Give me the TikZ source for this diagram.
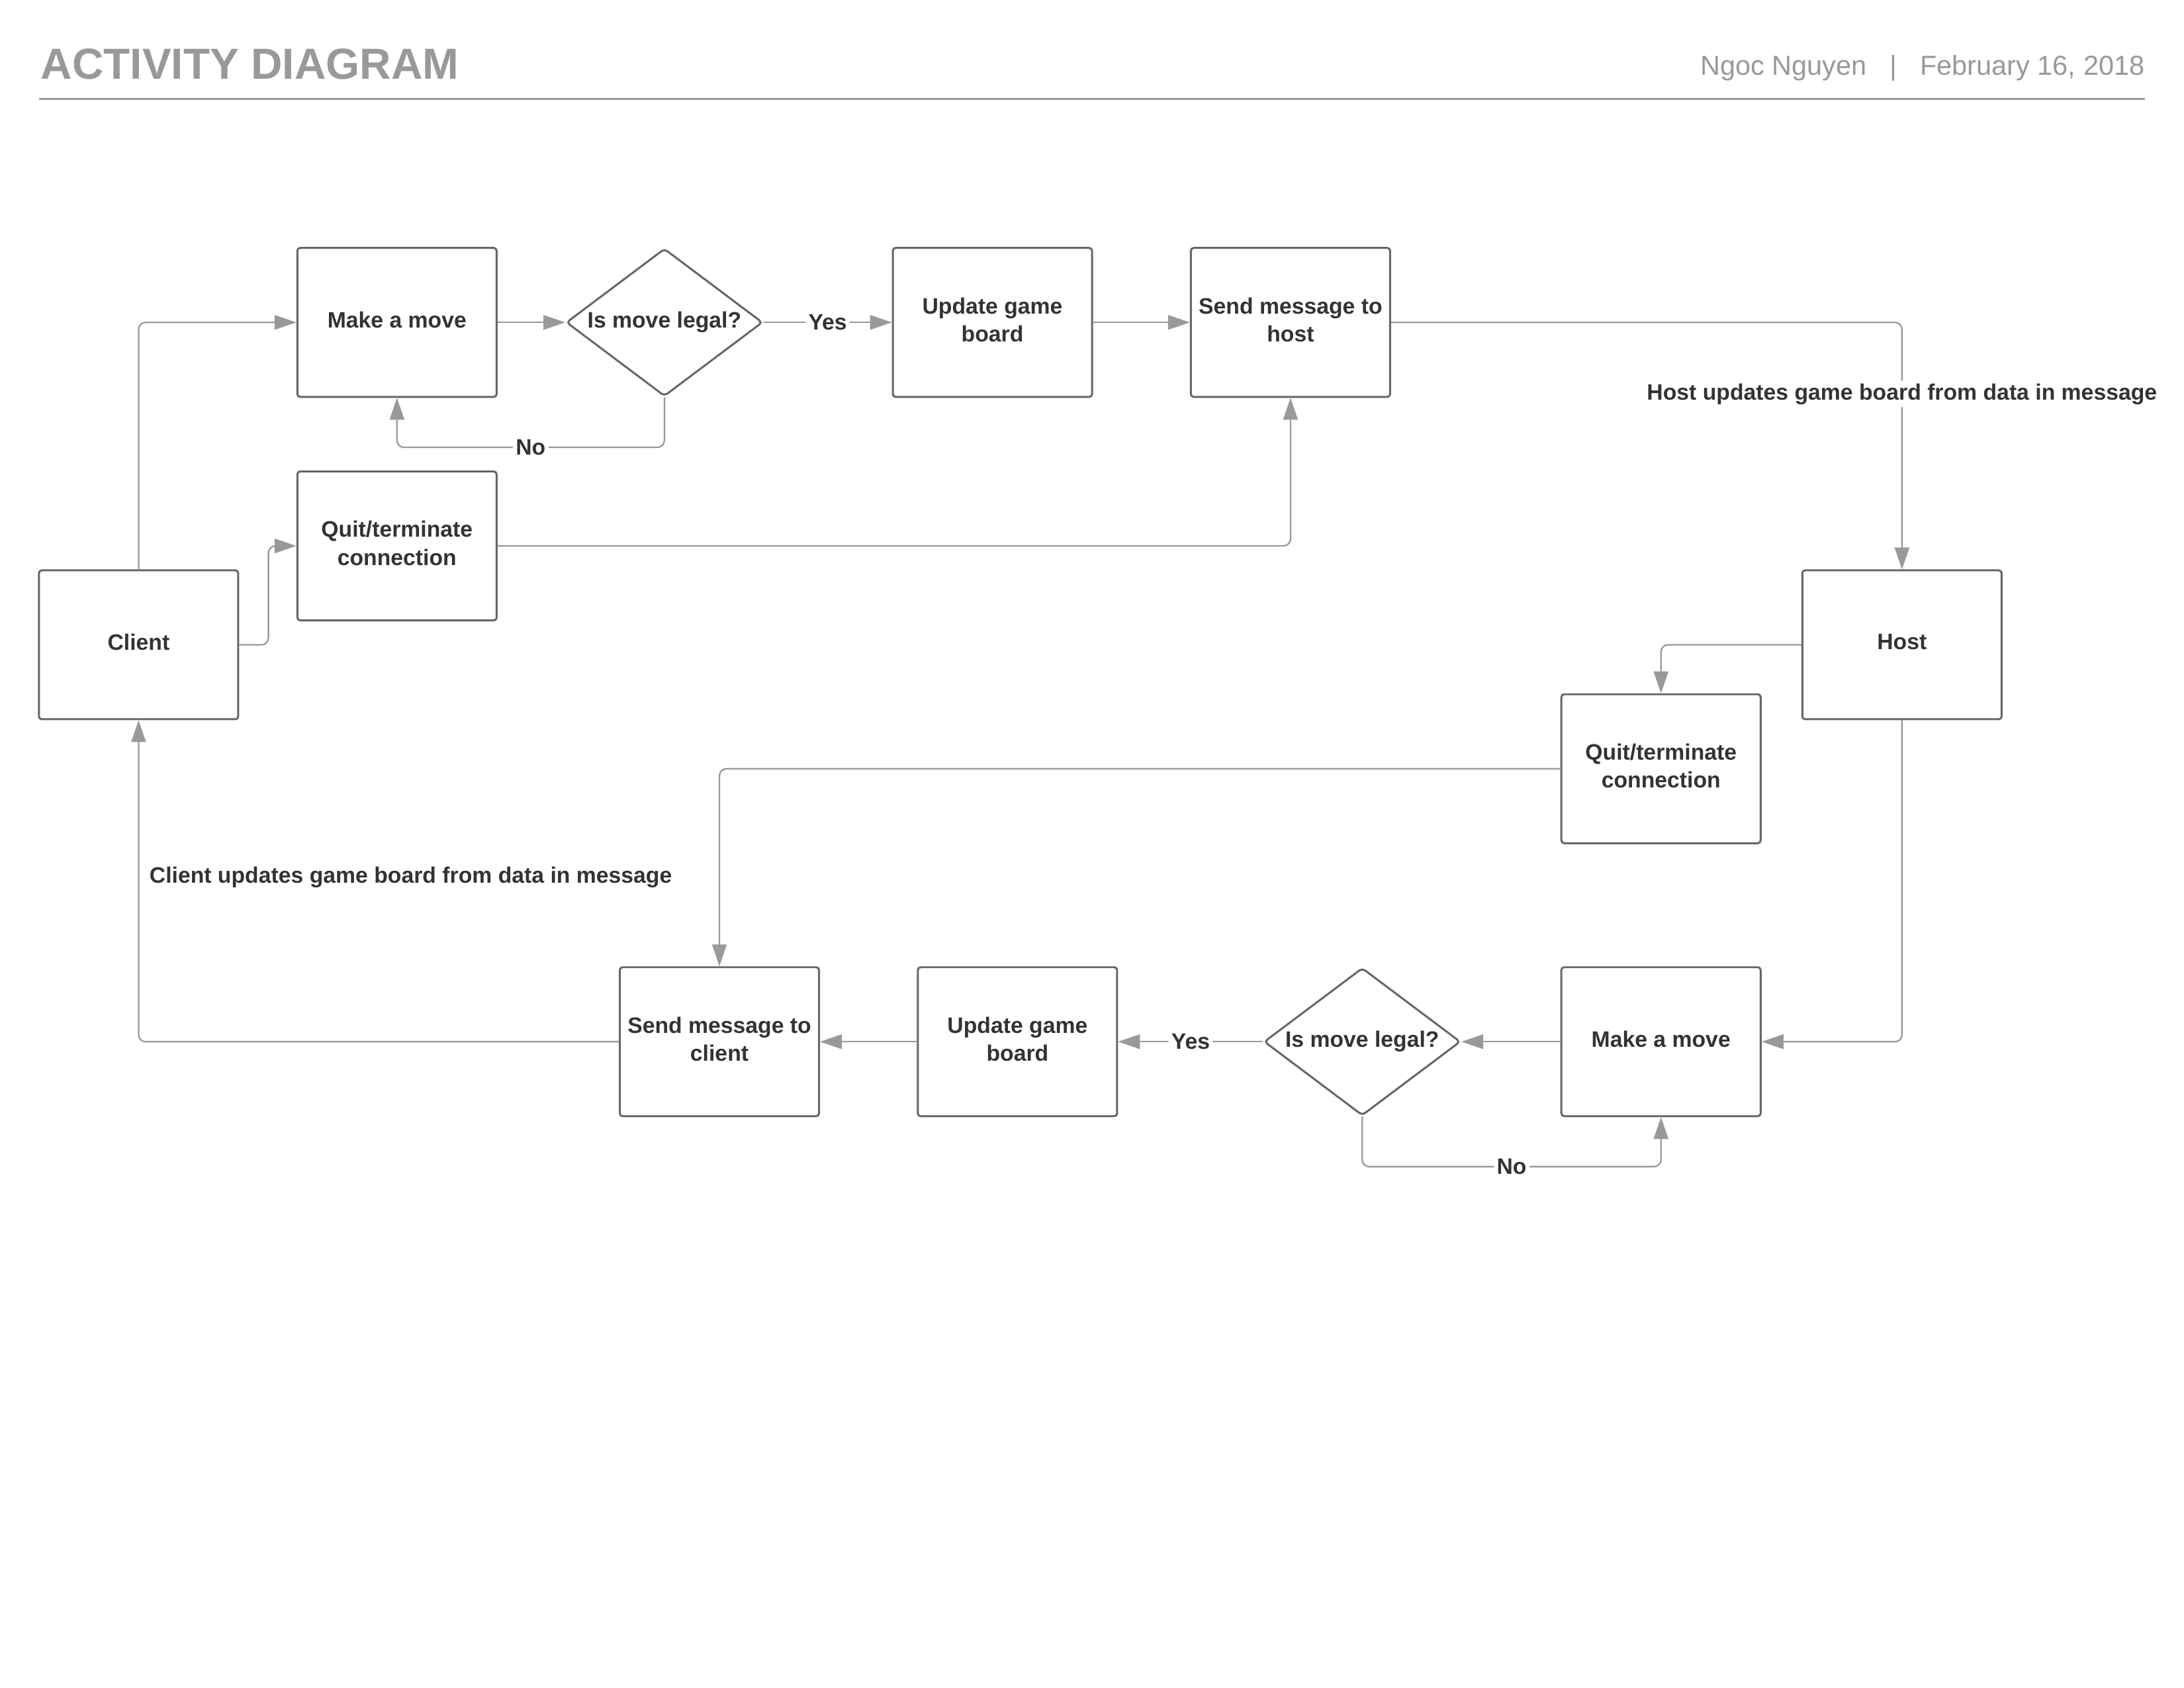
\documentclass[tikz,border=0pt]{standalone}
\usepackage{fontspec}
\setmainfont{Liberation Sans}
\usetikzlibrary{shapes.geometric,arrows.meta}
\definecolor{boxline}{HTML}{666666}
\definecolor{conline}{HTML}{999999}
\definecolor{ink}{HTML}{333333}
\definecolor{head}{HTML}{999999}

\begin{document}
\begin{tikzpicture}[x=0.021046cm,y=-0.021046cm,
  every node/.style={font=\fontsize{9.6pt}{12pt}\selectfont\bfseries, text=ink},
  stepbox/.style={draw=boxline, line width=0.85pt, rounded corners=1.2pt,
    minimum width=3.01cm, minimum height=2.25cm, align=center, inner sep=0pt,
    text depth=2.4pt},
  decision/.style={diamond, draw=boxline, line width=0.85pt, rounded corners=1.5pt,
    minimum width=2.967cm, minimum height=2.231cm, inner sep=0pt},
  conn/.style={draw=conline, line width=0.65pt, rounded corners=3pt,
    -{Triangle[length=3.3mm,width=2.2mm]}},
  lbl/.style={fill=white, inner sep=1.2pt},
]
\useasboundingbox (0,0) rectangle (1568,1212);

% header
\node[anchor=base west, inner sep=0pt, font=\fontsize{18.7pt}{22pt}\selectfont\bfseries, text=head]
  (title) at (29,57) {ACTIVITY DIAGRAM};
\node[anchor=base east, inner sep=0pt, font=\fontsize{11.8pt}{14pt}\selectfont, text=head]
  (byline) at (1540,54) {Ngoc Nguyen\hspace{0.35cm}|\hspace{0.35cm}February 16, 2018};
\draw[head, line width=1.1pt] (28,71) -- (1540,71);

% client side
\node[stepbox] (client) at (99.5,463) {Client};
\node[stepbox] (mm1) at (285,231.5) {Make a move};
\node[decision] (dia1) at (477,231.5) {\makebox[0pt]{Is move legal?}};
\node[stepbox] (upd1) at (712.5,231.5) {Update game\\board};
\node[stepbox] (send1) at (926.5,231.5) {Send message to\\host};
\node[stepbox] (quit1) at (285,392) {Quit/terminate\\connection};

% host side
\node[stepbox] (host) at (1365.5,463) {Host};
\node[stepbox] (quit2) at (1192.5,552) {Quit/terminate\\connection};
\node[stepbox] (mm2) at (1192.5,748) {Make a move};
\node[decision] (dia2) at (978,748) {\makebox[0pt]{Is move legal?}};
\node[stepbox] (upd2) at (730.5,748) {Update game\\board};
\node[stepbox] (send2) at (516.5,748) {Send message to\\client};

\node[anchor=west, inner sep=0pt] (clientnote) at (107,630)
  {Client updates game board from data in message};

% client flow
\draw[conn] (client.north) |- (mm1.west);
\draw[conn] (client.east) -- ++(21,0) |- (quit1.west);
\draw[conn] (mm1.east) -- (dia1.west);
\draw[conn] (dia1.east) -- node[lbl] (yes1) {Yes} (upd1.west);
\draw[conn] (dia1.south) -- ++(0,36) -| node[lbl, pos=0.25] (no1) {No} (mm1.south);
\draw[conn] (upd1.east) -- (send1.west);
\draw[conn] (send1.east) -| node[lbl, pos=0.645] (hostnote)
  {Host updates game board from data in message} (host.north);
\draw[conn] (quit1.east) -| (send1.south);

% host flow
\draw[conn] (host.west) -| (quit2.north);
\draw[conn] (host.south) |- (mm2.east);
\draw[conn] (mm2.west) -- (dia2.east);
\draw[conn] (dia2.west) -- node[lbl] (yes2) {Yes} (upd2.east);
\draw[conn] (dia2.south) -- ++(0,36) -| node[lbl, pos=0.25] (no2) {No} (mm2.south);
\draw[conn] (upd2.west) -- (send2.east);
\draw[conn] (quit2.west) -| (send2.north);
\draw[conn] (send2.west) -| (client.south);
\end{tikzpicture}
\end{document}
